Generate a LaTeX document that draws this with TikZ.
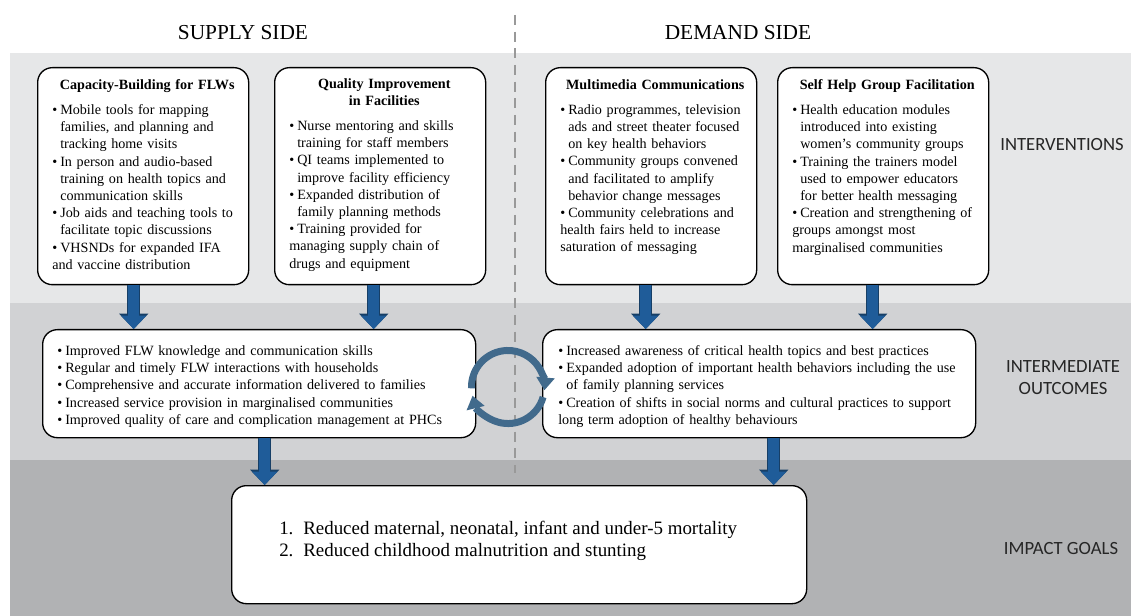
\documentclass[tikz,border=0pt]{standalone}
\usepackage{fontspec}
\setmainfont{Liberation Serif}
\newfontfamily\levelfont{Carlito}
\usetikzlibrary{arrows.meta, calc}

\definecolor{bandlight}{HTML}{E6E7E8}
\definecolor{bandmid}{HTML}{D1D2D4}
\definecolor{banddark}{HTML}{B1B2B4}
\definecolor{flowblue}{HTML}{1F5C99}
\definecolor{flowedge}{HTML}{173F66}
\definecolor{cycleblue}{HTML}{416A8C}

\tikzset{
  panel/.style={draw, line width=1pt, fill=white, rounded corners=11pt, anchor=north west},
  paneltext/.style={anchor=north west, inner sep=0pt, align=left, font=\fontsize{10.6}{12.9}\selectfont},
  flowarrow/.style={draw=flowblue, line width=8pt, -{Triangle[width=19pt,length=10pt,line width=0pt]},
    preaction={draw=flowedge, line width=10pt, -{Triangle[width=22pt,length=11.5pt,line width=0pt]}}},
  cyclearrow/.style={draw=cycleblue, line width=5.25pt, -{Triangle[width=14pt,length=9.5pt,line width=0pt]}},
  levellabel/.style={font=\levelfont\fontsize{14}{16.5}\selectfont, align=center, text=black!85},
  sidehead/.style={font=\fontsize{16}{19}\selectfont}
}
\newcommand{\bitem}{\par\hangindent=6pt\hangafter=1\noindent\makebox[6pt][l]{\textbullet}}
\newcommand{\paneltitle}[1]{{\centering\bfseries #1\par}\vspace{6pt}}

\begin{document}
\begin{tikzpicture}[x=0.75pt, y=-0.75pt]
  \useasboundingbox (0,0) rectangle (1131,616);
  \fill[bandlight] (10,53) rectangle (1131,303);
  \fill[bandmid] (10,303) rectangle (1131,460);
  \fill[banddark] (10,460) rectangle (1131,616);
  \draw[gray!80, line width=1.5pt, dash pattern=on 7.5pt off 5pt] (515,15) -- (515,473);

  \node[sidehead] (supply) at (243,33) {SUPPLY SIDE};
  \node[sidehead] (demand) at (738,33) {DEMAND SIDE};

  \node[levellabel] (interv) at (1062,145) {INTERVENTIONS};
  \node[levellabel] (interm) at (1063,378) {INTERMEDIATE\\OUTCOMES};
  \node[levellabel] (goals) at (1061,549) {IMPACT GOALS};

  \node[panel, minimum width=158.25pt, minimum height=162.75pt] (capbox) at (37,67) {};
  \node[panel, minimum width=158.25pt, minimum height=162.75pt] (qualbox) at (274,67) {};
  \node[panel, minimum width=158.25pt, minimum height=162.75pt] (mediabox) at (545,67) {};
  \node[panel, minimum width=158.25pt, minimum height=162.75pt] (shgbox) at (777,67) {};
  \node[panel, minimum width=324.75pt, minimum height=81pt] (supout) at (42,329) {};
  \node[panel, minimum width=324.75pt, minimum height=81pt] (demout) at (542,329) {};
  \node[panel, minimum width=431.25pt, minimum height=88.5pt] (impact) at (231,485) {};

  \node[paneltext, text width=142.5pt] (captext) at ($(capbox.north west)+(15,12)$) {%
    \paneltitle{Capacity-Building for FLWs}
    \bitem Mobile tools for mapping\newline families, and planning and\newline tracking home visits
    \bitem In person and audio-based\newline training on health topics and\newline communication skills
    \bitem Job aids and teaching tools to\newline facilitate topic discussions
    \bitem VHSNDs for expanded IFA\newline and vaccine distribution};
  \node[paneltext, text width=142.5pt] (qualtext) at ($(qualbox.north west)+(15,11)$) {%
    \paneltitle{Quality Improvement\\in Facilities}
    \bitem Nurse mentoring and skills\newline training for staff members
    \bitem QI teams implemented to\newline improve facility efficiency
    \bitem Expanded distribution of\newline family planning methods
    \bitem Training provided for\newline managing supply chain of\newline drugs and equipment};
  \node[paneltext, text width=142.5pt] (mediatext) at ($(mediabox.north west)+(15,12)$) {%
    \paneltitle{Multimedia Communications}
    \bitem Radio programmes, television\newline ads and street theater focused\newline on key health behaviors
    \bitem Community groups convened\newline and facilitated to amplify\newline behavior change messages
    \bitem Community celebrations and\newline health fairs held to increase\newline saturation of messaging};
  \node[paneltext, text width=142.5pt] (shgtext) at ($(shgbox.north west)+(15,12)$) {%
    \paneltitle{Self Help Group Facilitation}
    \bitem Health education modules\newline introduced into existing\newline women's community groups
    \bitem Training the trainers model\newline used to empower educators\newline for better health messaging
    \bitem Creation and strengthening of\newline groups amongst most\newline marginalised communities};

  \node[paneltext, text width=315pt] (suptext) at ($(supout.north west)+(15,9)$) {%
    \bitem Improved FLW knowledge and communication skills
    \bitem Regular and timely FLW interactions with households
    \bitem Comprehensive and accurate information delivered to families
    \bitem Increased service provision in marginalised communities
    \bitem Improved quality of care and complication management at PHCs};
  \node[paneltext, text width=315pt] (demtext) at ($(demout.north west)+(16,9)$) {%
    \bitem Increased awareness of critical health topics and best practices
    \bitem Expanded adoption of important health behaviors including the use\newline of family planning services
    \bitem Creation of shifts in social norms and cultural practices to support\newline long term adoption of healthy behaviours};

  \node[anchor=west, align=left, inner sep=0pt, font=\fontsize{14.2}{16.5}\selectfont] (goaltext) at ($(impact.west)+(48,-4)$) {%
    \makebox[18pt][l]{1.}Reduced maternal, neonatal, infant and under-5 mortality\\
    \makebox[18pt][l]{2.}Reduced childhood malnutrition and stunting};

  \coordinate (a1) at ($(capbox.south)+(-9.5,0)$);
  \coordinate (a2) at ($(qualbox.south)+(-6.5,0)$);
  \coordinate (a3) at ($(mediabox.south)+(-5.5,0)$);
  \coordinate (a4) at ($(shgbox.south)+(-10.5,0)$);
  \coordinate (a5) at ($(supout.south)+(5.5,0)$);
  \coordinate (a6) at ($(demout.south)+(14.5,0)$);
  \draw[flowarrow] (a1) -- (a1 |- supout.north);
  \draw[flowarrow] (a2) -- (a2 |- supout.north);
  \draw[flowarrow] (a3) -- (a3 |- demout.north);
  \draw[flowarrow] (a4) -- (a4 |- demout.north);
  \draw[flowarrow] (a5) -- (a5 |- impact.north);
  \draw[flowarrow] (a6) -- (a6 |- impact.north);

  \coordinate (cyc) at (508,387);
  \draw[cyclearrow] ($(cyc)+(182:27.4pt)$) arc[start angle=182, end angle=-5, radius=27.4pt];
  \draw[cyclearrow] ($(cyc)+(-16:27.4pt)$) arc[start angle=-16, end angle=-166, radius=27.4pt];
\end{tikzpicture}
\end{document}
